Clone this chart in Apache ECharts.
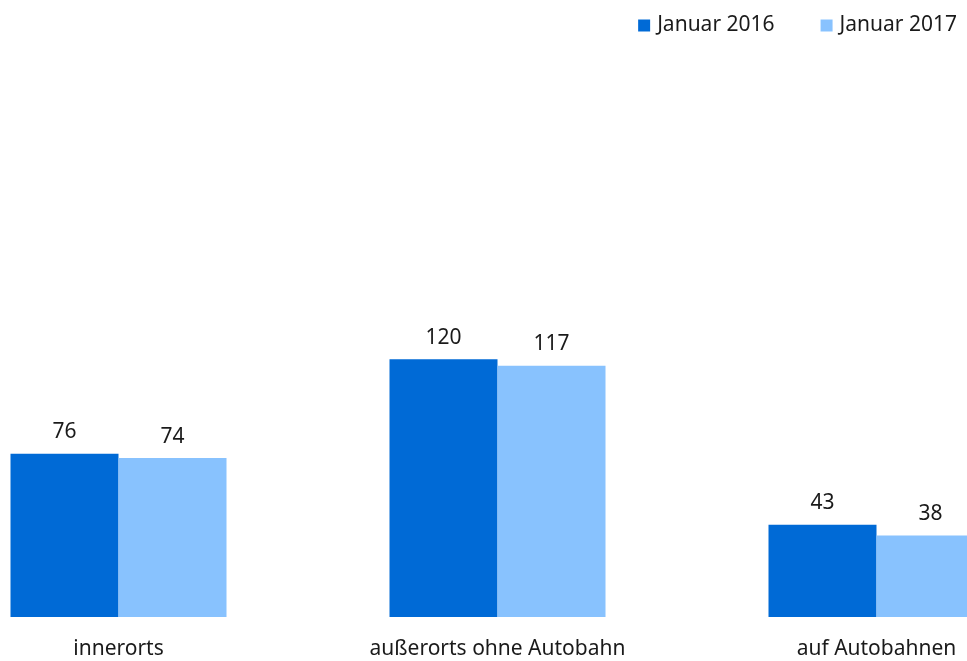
<!DOCTYPE html>
<html>
<head>
<meta charset="utf-8">
<script src="https://cdn.jsdelivr.net/npm/echarts@6/dist/echarts.min.js"></script>
<style>
  html, body { margin: 0; padding: 0; background: #fff; }
  #chart { width: 967px; height: 661px; }
</style>
</head>
<body>
<div id="chart"></div>
<script>
const categories = ['innerorts', 'außerorts ohne Autobahn', 'auf Autobahnen']
const seriesNames = ['Januar 2016', 'Januar 2017']
const values2016 = [76, 120, 43]
const values2017 = [74, 117, 38]

const chart = echarts.init(document.getElementById('chart'))
const font = 'Noto Sans'

function barSeries(name, data, color) {
  return {
    name: name,
    type: 'bar',
    data: data,
    barWidth: 108,
    barGap: '0%',
    itemStyle: { color: color },
    label: {
      show: true,
      position: 'top',
      distance: 11,
      color: '#1a1a1a',
      fontSize: 21,
      fontFamily: font
    },
    emphasis: { disabled: true }
  }
}

const option = {
  animation: false,
  legend: {
    right: 5,
    top: 10,
    itemWidth: 12,
    itemHeight: 12,
    itemGap: 46,
    icon: 'rect',
    textStyle: { fontSize: 21, fontFamily: font, color: '#1a1a1a', padding: [0, 0, 0, 2] },
    data: seriesNames
  },
  grid: {
    outerBoundsMode: 'none',
    left: -71,
    width: 1137,
    top: 80,
    bottom: 44
  },
  xAxis: {
    type: 'category',
    data: categories,
    axisLine: { show: false },
    axisTick: { show: false },
    axisLabel: {
      margin: 22,
      fontSize: 21,
      fontFamily: font,
      color: '#1a1a1a'
    }
  },
  yAxis: {
    type: 'value',
    min: 0,
    max: 250,
    show: false,
    splitLine: { show: false }
  },
  series: [
    barSeries(seriesNames[0], values2016, '#006ad6'),
    barSeries(seriesNames[1], values2017, '#88c2fe')
  ]
}
chart.setOption(option)
</script>
</body>
</html>
